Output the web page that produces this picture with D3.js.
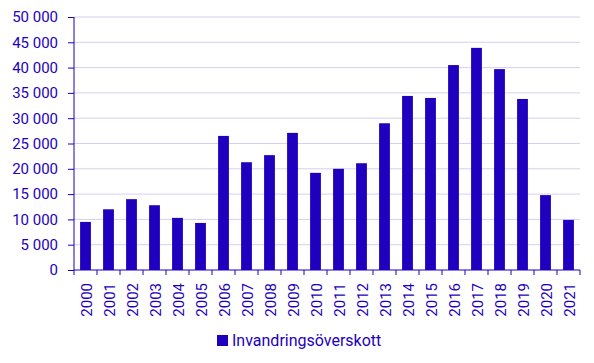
<!DOCTYPE html>
<html>
<head>
<meta charset="utf-8">
<script src="https://cdn.jsdelivr.net/npm/d3@7"></script>
<style>
  body { margin: 0; background: #fff; }
  svg { display: block; font-family: Roboto, sans-serif; }
</style>
</head>
<body>
<div id="chart"></div>
<script>
const years = ["2000","2001","2002","2003","2004","2005","2006","2007","2008","2009","2010",
               "2011","2012","2013","2014","2015","2016","2017","2018","2019","2020","2021"]
const values = [9500, 12000, 14000, 12800, 10300, 9300, 26500, 21300, 22700, 27100, 19200,
                20000, 21100, 29000, 34400, 34000, 40500, 43900, 39700, 33800, 14800, 9900]
const yTicks = [0, 5000, 10000, 15000, 20000, 25000, 30000, 35000, 40000, 45000, 50000]
const seriesName = "Invandringsöverskott"

const W = 594, H = 363
const margin = {left: 74, right: 14, top: 17, bottom: 93}
const blue = "#1e00be", grid = "#d4d0ee"

const svg = d3.select("#chart").append("svg").attr("width", W).attr("height", H)
const innerW = W - margin.left - margin.right
const innerH = H - margin.top - margin.bottom
const g = svg.append("g").attr("transform", `translate(${margin.left},${margin.top})`)

const x = d3.scaleBand().domain(years).range([0, innerW]).paddingInner(0.53).paddingOuter(0.265)
const y = d3.scaleLinear().domain([0, 50000]).range([innerH, 0])
const fmt = d => d3.format(",")(d).replace(/,/g, " ")

// gridlines
g.selectAll(".grid").data(yTicks.filter(d => d > 0)).enter()
  .append("line").attr("class", "grid")
  .attr("x1", 0).attr("x2", innerW)
  .attr("y1", d => y(d)).attr("y2", d => y(d))
  .attr("stroke", grid).attr("stroke-width", 1)

// bars
g.selectAll(".bar").data(values).enter()
  .append("rect").attr("class", "bar")
  .attr("x", (d, i) => x(years[i]))
  .attr("width", x.bandwidth())
  .attr("y", d => y(d))
  .attr("height", d => innerH - y(d))
  .attr("fill", blue)

// y axis
const yAxis = g.append("g").call(d3.axisLeft(y).tickValues(yTicks).tickFormat(fmt).tickSize(6).tickPadding(10))
yAxis.select(".domain").attr("stroke", blue).attr("d", `M0,0V${innerH}`)
yAxis.selectAll(".tick line").attr("stroke", blue)
yAxis.selectAll("text").attr("fill", blue).style("font-size", "15px").style("font-family", "Roboto, sans-serif")

// x axis, ticks at band boundaries
const xAxis = g.append("g").attr("transform", `translate(0,${innerH})`)
xAxis.append("line").attr("x1", 0).attr("x2", innerW).attr("stroke", blue)
const step = x.step()
xAxis.selectAll(".xt").data(d3.range(years.length + 1)).enter()
  .append("line").attr("class", "xt")
  .attr("x1", i => i * step).attr("x2", i => i * step)
  .attr("y1", 0).attr("y2", 5).attr("stroke", blue)
xAxis.selectAll(".xl").data(years).enter()
  .append("text").attr("class", "xl")
  .attr("transform", d => `translate(${x(d) + x.bandwidth() / 2 + 6},13) rotate(-90)`)
  .attr("text-anchor", "end")
  .attr("fill", blue)
  .style("font-size", "15px")
  .text(d => d)

// legend
const leg = svg.append("g").attr("transform", "translate(217,335)")
leg.append("rect").attr("width", 11).attr("height", 11).attr("fill", blue)
leg.append("text").attr("x", 15).attr("y", 11).attr("fill", blue)
  .style("font-size", "16px").text(seriesName)
</script>
</body>
</html>
